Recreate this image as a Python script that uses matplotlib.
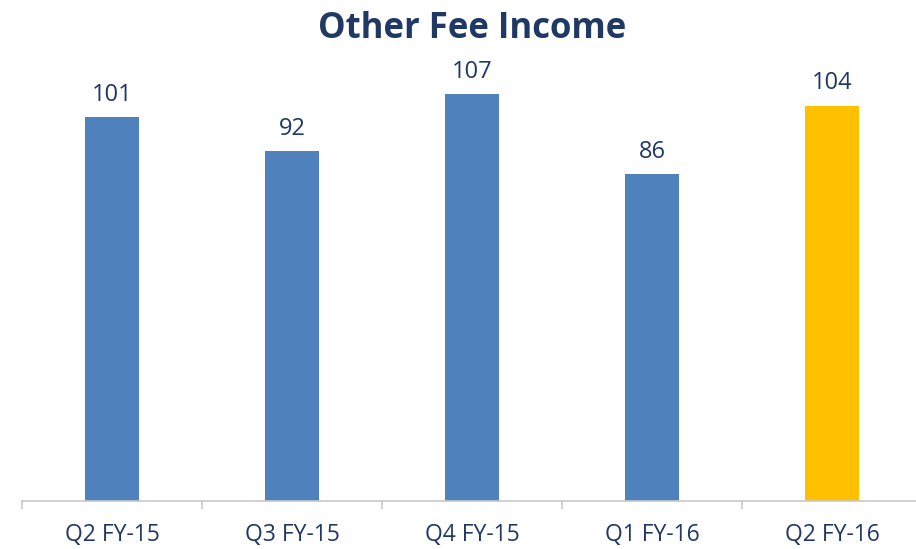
import matplotlib
matplotlib.use("Agg")
import matplotlib.pyplot as plt
import numpy as np

categories = ["Q2 FY-15", "Q3 FY-15", "Q4 FY-15", "Q1 FY-16", "Q2 FY-16"]
values = [101, 92, 107, 86, 104]
colors = ["#4F81BD", "#4F81BD", "#4F81BD", "#4F81BD", "#FFC000"]

plt.rcParams['font.family'] = ['Open Sans', 'DejaVu Sans']
text_color = "#1F3864"

fig = plt.figure(figsize=(9.16, 5.49), dpi=100)
ax = fig.add_axes([22/916, 1-501/549, 900/916, 456/549])

x = np.arange(len(categories))
ax.bar(x, values, width=0.305, color=colors)
for xi, v in zip(x, values):
    ax.annotate(str(v), (xi, v), xytext=(0, 12), textcoords="offset points",
                ha="center", va="baseline", fontsize=17, color=text_color)

ax.set_xlim(-0.5, len(categories) - 0.5)
ax.set_ylim(0, 120)
for s in ["top", "right", "left"]:
    ax.spines[s].set_visible(False)
ax.spines["bottom"].set_color("#C8C8C8")
ax.spines["bottom"].set_linewidth(1.2)
ax.set_yticks([])

ax.set_xticks(np.arange(-0.5, len(categories)), labels=[""] * (len(categories) + 1))
ax.tick_params(axis="x", which="major", length=6, width=1.2, color="#C8C8C8", direction="out")
ax.set_xticks(x, labels=categories, minor=True)
ax.tick_params(axis="x", which="minor", length=0, pad=16, labelsize=16.5, labelcolor=text_color)

fig.text(472/916, 1-38/549, "Other Fee Income", ha="center", va="baseline",
         fontsize=25, fontweight="bold", color=text_color)

fig.savefig("out.png", dpi=100)
